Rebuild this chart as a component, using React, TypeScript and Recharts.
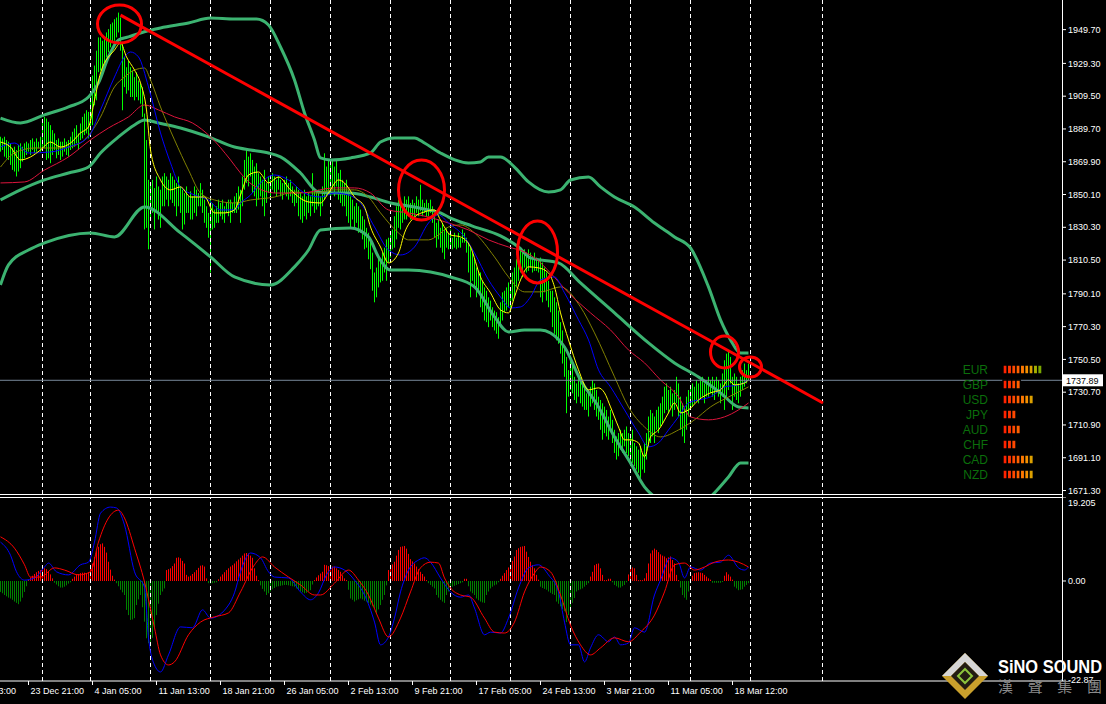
import { ComposedChart, BarChart, Bar, Line, XAxis, YAxis, ReferenceLine, ReferenceDot, Cell } from 'recharts'

const font = '"Liberation Sans", Arial, sans-serif'

// H4 bars, high / low, 10 per row
const barHigh = [
  1885, 1884, 1885, 1883, 1882, 1881, 1878, 1879, 1877, 1880,
  1881, 1879, 1881, 1882, 1881, 1883, 1884, 1882, 1884, 1882,
  1885, 1895, 1897, 1896, 1894, 1892, 1889, 1887, 1883, 1884,
  1882, 1882, 1884, 1882, 1883, 1885, 1888, 1890, 1892, 1887,
  1893, 1897, 1899, 1901, 1900, 1910, 1922, 1928, 1937, 1945,
  1945, 1943, 1945, 1948, 1950, 1953, 1954, 1956, 1957, 1960,
  1957, 1942, 1933, 1927, 1931, 1927, 1925, 1921, 1924, 1919,
  1917, 1915, 1899, 1883, 1859, 1857, 1859, 1854, 1861, 1855,
  1853, 1861, 1863, 1861, 1859, 1863, 1861, 1859, 1857, 1861,
  1855, 1853, 1851, 1855, 1849, 1852, 1849, 1855, 1853, 1851,
  1857, 1853, 1847, 1843, 1839, 1849, 1845, 1841, 1843, 1847,
  1845, 1847, 1843, 1845, 1847, 1847, 1845, 1849, 1851, 1855,
  1853, 1861, 1871, 1877, 1873, 1875, 1871, 1867, 1869, 1863,
  1861, 1859, 1865, 1857, 1861, 1859, 1863, 1861, 1859, 1861,
  1859, 1857, 1859, 1861, 1857, 1859, 1855, 1853, 1855, 1853,
  1851, 1849, 1853, 1849, 1851, 1849, 1863, 1853, 1851, 1853,
  1849, 1855, 1875, 1867, 1871, 1869, 1871, 1867, 1871, 1863,
  1865, 1859, 1857, 1859, 1853, 1849, 1847, 1843, 1845, 1843,
  1841, 1837, 1835, 1830, 1827, 1823, 1815, 1803, 1806, 1812,
  1811, 1815, 1818, 1823, 1824, 1827, 1829, 1837, 1843, 1847,
  1845, 1843, 1849, 1847, 1849, 1845, 1847, 1845, 1849, 1847,
  1856, 1847, 1845, 1847, 1845, 1847, 1843, 1837, 1833, 1835,
  1830, 1833, 1829, 1830, 1827, 1829, 1824, 1827, 1824, 1827,
  1824, 1829, 1827, 1824, 1821, 1818, 1815, 1811, 1806, 1804,
  1803, 1798, 1794, 1792, 1788, 1786, 1782, 1780, 1779, 1776,
  1785, 1791, 1792, 1794, 1797, 1794, 1803, 1806, 1811, 1815,
  1817, 1815, 1817, 1815, 1817, 1815, 1812, 1815, 1812, 1811,
  1812, 1809, 1806, 1803, 1798, 1792, 1792, 1788, 1785, 1780,
  1773, 1768, 1758, 1752, 1744, 1752, 1748, 1740, 1736, 1740,
  1738, 1736, 1734, 1730, 1732, 1734, 1738, 1736, 1732, 1728,
  1726, 1724, 1722, 1720, 1716, 1720, 1714, 1708, 1704, 1706,
  1708, 1706, 1708, 1710, 1706, 1704, 1708, 1700, 1698, 1696,
  1698, 1694, 1700, 1706, 1716, 1720, 1718, 1716, 1720, 1722,
  1724, 1728, 1734, 1736, 1732, 1734, 1730, 1732, 1740, 1736,
  1728, 1724, 1722, 1728, 1732, 1734, 1736, 1734, 1738, 1736,
  1738, 1740, 1736, 1738, 1740, 1738, 1740, 1738, 1740, 1738,
  1736, 1742, 1750, 1754, 1755, 1752, 1740, 1742, 1740, 1736,
  1740, 1744, 1748, 1744, 1748,
]
const barLow = [
  1876, 1877, 1873, 1872, 1871, 1868, 1865, 1864, 1861, 1864,
  1866, 1870, 1872, 1874, 1876, 1874, 1877, 1875, 1876, 1878,
  1876, 1877, 1878, 1871, 1872, 1869, 1874, 1877, 1872, 1874,
  1871, 1873, 1876, 1874, 1873, 1877, 1878, 1879, 1881, 1877,
  1883, 1884, 1886, 1887, 1884, 1889, 1892, 1904, 1907, 1924,
  1925, 1924, 1930, 1933, 1936, 1939, 1942, 1943, 1945, 1948,
  1937, 1901, 1915, 1911, 1913, 1909, 1909, 1907, 1909, 1907,
  1905, 1897, 1829, 1830, 1817, 1835, 1839, 1829, 1839, 1835,
  1830, 1843, 1843, 1847, 1843, 1847, 1845, 1843, 1837, 1843,
  1839, 1829, 1832, 1839, 1839, 1835, 1835, 1839, 1837, 1843,
  1843, 1839, 1833, 1830, 1824, 1803, 1829, 1830, 1833, 1833,
  1837, 1835, 1833, 1839, 1837, 1833, 1839, 1839, 1839, 1841,
  1833, 1843, 1853, 1857, 1855, 1861, 1851, 1849, 1843, 1847,
  1849, 1843, 1837, 1845, 1851, 1849, 1853, 1851, 1849, 1853,
  1849, 1847, 1851, 1849, 1847, 1849, 1845, 1843, 1845, 1837,
  1835, 1833, 1837, 1835, 1839, 1837, 1843, 1839, 1841, 1843,
  1837, 1843, 1847, 1849, 1851, 1847, 1853, 1849, 1855, 1847,
  1845, 1843, 1843, 1837, 1833, 1830, 1835, 1829, 1833, 1827,
  1827, 1823, 1817, 1818, 1811, 1805, 1792, 1785, 1788, 1794,
  1797, 1798, 1803, 1798, 1809, 1812, 1817, 1818, 1823, 1830,
  1829, 1833, 1835, 1835, 1837, 1835, 1837, 1835, 1839, 1837,
  1840, 1837, 1839, 1837, 1837, 1839, 1833, 1824, 1818, 1823,
  1818, 1815, 1811, 1818, 1817, 1818, 1817, 1818, 1817, 1818,
  1818, 1821, 1821, 1815, 1803, 1788, 1798, 1794, 1788, 1791,
  1782, 1779, 1774, 1773, 1770, 1774, 1770, 1768, 1766, 1763,
  1770, 1774, 1779, 1780, 1782, 1779, 1786, 1788, 1794, 1798,
  1803, 1800, 1806, 1803, 1804, 1806, 1803, 1804, 1804, 1803,
  1788, 1785, 1791, 1786, 1782, 1779, 1770, 1766, 1762, 1760,
  1754, 1748, 1740, 1718, 1728, 1732, 1730, 1726, 1724, 1728,
  1724, 1722, 1720, 1720, 1716, 1722, 1724, 1720, 1716, 1714,
  1708, 1702, 1706, 1704, 1702, 1708, 1700, 1694, 1690, 1692,
  1696, 1694, 1698, 1694, 1692, 1688, 1688, 1686, 1684, 1682,
  1679, 1684, 1682, 1690, 1698, 1700, 1704, 1700, 1708, 1706,
  1710, 1712, 1718, 1720, 1718, 1722, 1716, 1720, 1724, 1716,
  1708, 1704, 1700, 1708, 1716, 1720, 1722, 1724, 1726, 1724,
  1726, 1728, 1724, 1728, 1728, 1730, 1728, 1726, 1730, 1728,
  1724, 1728, 1720, 1728, 1732, 1736, 1720, 1728, 1726, 1724,
  1728, 1732, 1734, 1736, 1738,
]

// indicator lines read as [bar index, value]
const bbUpper = [
  [0, 1896.3], [10, 1893.3], [22, 1898.2], [34, 1903.0], [44, 1909.0], [49, 1917.5], [54, 1933.2], [59, 1943.4],
  [64, 1945.3], [70, 1947.7], [80, 1950.7], [94, 1953.7], [105, 1956.7], [117, 1956.1], [128, 1956.1], [134, 1952.5],
  [140, 1939.2], [147, 1919.3], [152, 1899.4], [157, 1883.1], [160, 1872.2], [165, 1871.0], [175, 1872.2], [185, 1875.2],
  [190, 1881.8], [197, 1884.3], [207, 1884.3], [212, 1881.2], [220, 1875.2], [234, 1869.2], [240, 1869.8], [244, 1872.8],
  [250, 1872.8], [257, 1866.7], [264, 1857.7], [274, 1851.6], [280, 1852.9], [285, 1858.9], [294, 1860.7], [300, 1854.7],
  [307, 1848.6], [317, 1842.6], [327, 1832.9], [332, 1828.7], [337, 1824.5], [345, 1817.8], [354, 1794.3], [360, 1774.4],
  [365, 1762.3], [370, 1754.4], [374, 1754.4],
]
const bbMiddle = [
  [0, 1846.8], [10, 1852.9], [22, 1858.9], [34, 1863.1], [44, 1866.7], [50, 1875.2], [59, 1884.9], [67, 1892.1],
  [72, 1895.1], [79, 1893.3], [90, 1890.3], [104, 1884.9], [117, 1878.8], [125, 1877.0], [134, 1875.2], [140, 1872.8],
  [150, 1863.1], [159, 1851.6], [167, 1851.0], [175, 1851.0], [185, 1848.6], [195, 1845.0], [207, 1842.6], [214, 1840.8],
  [220, 1839.0], [224, 1836.5], [236, 1831.0], [250, 1825.1], [259, 1818.4], [265, 1811.8], [279, 1808.8], [290, 1796.7],
  [307, 1778.6], [324, 1760.5], [337, 1748.4], [349, 1739.9], [360, 1730.3], [369, 1721.8], [374, 1721.2],
]
const bbLower = [
  [0, 1795.5], [4, 1807.6], [14, 1816.6], [22, 1820.9], [45, 1826.9], [57, 1824.5], [72, 1842.6], [90, 1826.9],
  [105, 1812.4], [117, 1800.3], [135, 1795.5], [147, 1806.4], [154, 1816.6], [160, 1828.7], [175, 1829.9], [184, 1824.5],
  [189, 1812.4], [195, 1804.5], [204, 1804.5], [215, 1803.3], [225, 1800.3], [237, 1794.3], [247, 1776.2], [254, 1767.1],
  [262, 1768.3], [270, 1768.3], [275, 1766.5], [282, 1758.0], [290, 1738.1], [299, 1721.8], [307, 1703.7], [315, 1688.0],
  [322, 1673.5], [329, 1665.7], [340, 1659.6], [350, 1662.6], [355, 1667.5], [364, 1679.5], [370, 1688.0], [374, 1688.0],
]
const maYellow = [
  [0, 1881.8], [5, 1878.8], [10, 1871.0], [15, 1872.8], [20, 1877.0], [25, 1881.8], [30, 1878.8], [35, 1881.2],
  [40, 1887.3], [44, 1890.9], [47, 1907.2], [50, 1923.5], [57, 1937.4], [60, 1941.6], [63, 1933.2], [67, 1925.3],
  [70, 1917.5], [73, 1901.2], [75, 1877.0], [80, 1858.9], [85, 1852.9], [90, 1854.7], [95, 1848.6], [102, 1848.6],
  [107, 1839.0], [112, 1839.0], [117, 1840.8], [120, 1849.8], [124, 1861.9], [129, 1863.7], [134, 1857.1], [139, 1860.7],
  [145, 1852.9], [154, 1845.6], [160, 1845.0], [164, 1851.0], [169, 1858.9], [172, 1857.1], [177, 1848.6], [182, 1842.6],
  [185, 1830.5], [190, 1818.4], [194, 1808.8], [199, 1814.8], [202, 1826.9], [207, 1836.5], [212, 1839.6], [217, 1840.8],
  [220, 1834.7], [225, 1825.7], [230, 1824.5], [235, 1818.4], [240, 1800.3], [245, 1790.7], [250, 1780.4], [254, 1778.6],
  [257, 1788.2], [260, 1798.5], [264, 1806.4], [269, 1805.8], [274, 1802.7], [277, 1794.3], [280, 1778.6], [284, 1762.3],
  [289, 1744.2], [294, 1732.1], [299, 1733.3], [302, 1730.3], [305, 1721.8], [309, 1709.7], [312, 1701.9], [315, 1701.9],
  [319, 1700.1], [322, 1691.6], [325, 1703.7], [329, 1707.9], [334, 1718.2], [337, 1724.2], [340, 1718.2], [344, 1720.0],
  [349, 1726.0], [355, 1730.3], [360, 1732.1], [364, 1738.1], [367, 1735.1], [372, 1736.3], [374, 1738.1],
]
const maBlue = [
  [0, 1878.8], [7, 1881.2], [14, 1875.2], [25, 1875.8], [34, 1878.8], [44, 1884.9], [50, 1901.2], [57, 1921.1],
  [62, 1933.2], [65, 1936.2], [69, 1933.2], [74, 1915.1], [80, 1887.3], [85, 1869.2], [90, 1854.7], [97, 1849.8],
  [104, 1846.8], [110, 1840.8], [117, 1840.8], [120, 1845.0], [125, 1849.8], [130, 1857.1], [137, 1861.9], [144, 1858.9],
  [152, 1851.0], [160, 1848.6], [167, 1851.0], [174, 1849.8], [180, 1845.0], [187, 1830.5], [194, 1816.6], [200, 1813.6],
  [207, 1818.4], [214, 1832.9], [219, 1837.8], [224, 1832.9], [232, 1824.5], [237, 1814.8], [244, 1798.5], [250, 1788.2],
  [255, 1781.6], [260, 1782.2], [265, 1788.2], [270, 1798.5], [277, 1800.3], [282, 1790.7], [289, 1774.4], [294, 1762.3],
  [299, 1744.2], [305, 1733.9], [312, 1720.0], [319, 1706.1], [324, 1697.7], [329, 1700.1], [334, 1707.9], [339, 1715.8],
  [344, 1724.2], [349, 1726.0], [355, 1727.9], [362, 1733.9], [369, 1735.1], [374, 1738.1],
]
const maOlive = [
  [0, 1866.7], [7, 1875.2], [17, 1878.2], [30, 1878.2], [40, 1881.2], [45, 1887.3], [50, 1896.9], [57, 1915.1],
  [62, 1921.1], [67, 1925.3], [72, 1926.5], [75, 1919.3], [80, 1903.0], [87, 1883.1], [94, 1864.9], [100, 1851.0],
  [107, 1846.8], [117, 1845.0], [125, 1846.8], [137, 1848.6], [147, 1851.6], [157, 1851.0], [167, 1852.9], [177, 1852.9],
  [184, 1848.6], [190, 1839.0], [199, 1826.9], [204, 1822.7], [214, 1822.7], [219, 1825.7], [224, 1830.5], [230, 1831.7],
  [237, 1826.9], [247, 1812.4], [254, 1800.3], [262, 1791.3], [270, 1791.3], [280, 1794.3], [290, 1782.2], [297, 1766.5],
  [307, 1740.0], [314, 1721.8], [322, 1709.7], [330, 1703.7], [339, 1707.9], [347, 1714.0], [355, 1721.8], [364, 1727.8],
  [374, 1733.9],
]
const maCrimson = [
  [0, 1857.1], [12, 1857.7], [22, 1864.9], [34, 1872.8], [45, 1883.1], [54, 1890.3], [64, 1897.0], [72, 1904.2],
  [79, 1901.2], [87, 1897.0], [96, 1893.3], [105, 1884.9], [115, 1871.0], [120, 1863.1], [126, 1855.9], [138, 1851.0],
  [150, 1851.0], [167, 1854.1], [177, 1854.1], [185, 1851.0], [194, 1840.8], [204, 1839.0], [214, 1836.5], [224, 1832.9],
  [234, 1828.7], [244, 1822.7], [254, 1818.4], [262, 1815.4], [268, 1811.0], [275, 1802.7], [284, 1790.7], [295, 1778.6],
  [305, 1768.3], [314, 1756.2], [322, 1748.4], [330, 1738.1], [339, 1727.9], [345, 1715.8], [354, 1714.0], [362, 1715.8],
  [369, 1720.0], [374, 1724.2],
]

// MACD panel
const macdHist = [
  -2.5, -2.8, -3.2, -3.5, -3.8, -4.0, -4.3, -4.7, -5.0, -5.3,
  -4.7, -3.8, -2.5, -1.2, 0.3, 0.8, 1.2, 1.6, 2.0, 2.3,
  2.5, 2.6, 2.9, 2.7, 2.2, 1.5, 0.6, -0.4, -0.8, -1.2,
  -1.5, -1.5, -1.3, -1.0, -0.6, -0.3, 0.5, 1.0, 1.4, 1.6,
  1.8, 1.9, 1.9, 1.8, 2.0, 2.8, 4.0, 5.5, 6.8, 7.8,
  8.4, 8.6, 7.8, 6.5, 4.4, 2.6, 1.2, 0.3, -0.5, -1.2,
  -2.0, -2.6, -3.2, -6.6, -7.8, -8.9, -8.8, -8.5, -5.5, -4.2,
  -3.2, -6.0, -9.3, -13.1, -14.2, -15.0, -13.0, -10.8, -7.8, -5.2,
  -3.2, -2.4, -1.7, 2.5, 2.7, 2.9, 3.4, 4.0, 5.3, 5.4,
  5.2, 4.6, 4.0, 1.4, 1.0, 1.2, 1.6, 2.0, 2.5, 3.0,
  3.5, 3.6, 3.3, 0.6, -0.5, -0.6, -0.5, -0.4, -0.3, 0.4,
  1.0, 1.5, 2.0, 2.5, 2.9, 3.3, 3.6, 4.0, 4.5, 4.9,
  5.3, 5.8, 6.3, 6.4, 6.3, 5.8, 5.3, 2.9, 1.2, 0.2,
  -1.0, -1.8, -2.4, -3.2, -2.8, -2.4, -1.9, -1.6, -1.3, -1.2,
  -1.1, -1.0, -0.9, -0.9, -1.0, -1.1, -1.2, -1.3, -1.7, -2.0,
  -2.4, -2.6, -2.8, -2.7, -2.4, -2.1, -0.8, 0.2, 0.8, 1.3,
  1.7, 2.1, 3.7, 3.6, 3.4, 3.3, 3.3, 3.3, 2.9, 2.5,
  2.1, 1.3, 0.6, 0.2, -2.0, -4.0, -4.3, -4.7, -4.4, -4.2,
  -4.0, -4.2, -4.5, -4.7, -5.0, -5.4, -5.8, -6.2, -7.4, -6.5,
  -5.5, -4.3, -3.2, -1.0, 2.5, 3.1, 3.8, 4.4, 5.8, 7.1,
  7.8, 7.9, 8.0, 7.4, 6.2, 5.0, 4.5, 4.0, 3.3, 2.7,
  2.1, 1.6, 1.0, 0.2, -0.5, -0.9, -1.3, -1.7, -3.2, -3.8,
  -4.3, -4.7, -5.0, -3.2, -2.4, -1.7, -1.3, -1.1, -0.9, -0.7,
  -0.5, -0.3, 0.5, 0.5, -1.2, -2.4, -2.8, -3.2, -4.0, -4.4,
  -4.7, -4.9, -5.0, -3.2, -2.4, -1.7, -1.3, -1.0, -0.8, -0.3,
  0.5, 1.2, 1.8, 2.5, 3.1, 3.7, 4.6, 5.6, 7.1, 7.5,
  7.8, 7.9, 8.0, 6.7, 5.5, 4.4, 3.6, 2.9, 1.4, 0.3,
  -1.3, -1.6, -1.8, -2.0, -2.4, -2.7, -3.0, -3.2, -4.7, -5.2,
  -5.8, -6.4, -6.9, -9.4, -7.8, -6.2, -5.0, -3.9, -2.4, -2.1,
  -1.9, -1.7, -1.3, -0.9, -0.5, 1.0, 2.1, 3.6, 3.9, 4.0,
  2.9, 1.4, 0.2, 0.2, 0.5, 0.5, -0.3, -0.9, -1.2, -1.5,
  -1.5, -1.2, -0.9, -0.3, 1.5, 3.3, 3.1, 2.9, 1.4, 0.2,
  0.2, 0.2, 0.6, 1.8, 4.0, 6.3, 7.0, 7.4, 7.1, 6.6,
  6.1, 5.8, 5.6, 5.2, 5.4, 5.6, 4.8, 4.0, 1.4, 0.2,
  -1.5, -3.2, -3.8, -4.3, -2.4, -0.5, 1.2, 1.8, 1.9, 2.0,
  1.9, 1.8, 1.4, 1.0, 0.6, 0.3, -0.4, -0.4, -0.4, -0.4,
  -0.4, -0.2, 1.2, 2.0, 1.5, 1.0, 0.3, -1.3, -1.7, -2.1,
  -2.0, -1.9, -1.3, -0.9, -0.5,
]
const macdMain = [
  [0, 8.9], [5, 5.9], [8, 2.1], [12, 0.2], [17, 0.7], [22, 3.2], [24, 4.1], [28, 2.1], [34, 1.4], [40, 3.7],
  [44, 4.3], [47, 8.9], [50, 15.5], [55, 16.9], [58, 16.7], [62, 12.8], [67, 2.1], [72, -1.4], [74, -13.0], [77, -19.2],
  [80, -20.8], [84, -16.9], [90, -10.5], [96, -10.7], [101, -6.6], [105, -8.5], [114, -5.5], [117, -2.7], [120, 2.1],
  [125, 6.4], [130, 5.3], [134, 2.1], [137, 0.9], [144, 0.7], [150, -2.5], [155, -4.3], [159, -2.7], [163, 1.4],
  [167, 3.2], [172, 2.5], [177, 0.2], [182, -3.2], [187, -9.4], [190, -14.6], [194, -12.8], [197, -8.5], [200, -2.5],
  [204, 2.5], [209, 4.8], [212, 5.3], [215, 4.3], [220, 0.7], [225, -2.5], [230, -3.7], [234, -3.2], [237, -6.2],
  [242, -12.3], [245, -11.7], [250, -11.9], [254, -8.5], [259, -1.6], [264, 3.0], [269, 3.7], [274, 1.4], [279, -2.5],
  [282, -9.4], [285, -14.6], [289, -14.6], [292, -18.5], [295, -15.3], [299, -12.3], [304, -13.9], [307, -12.8],
  [310, -14.6], [314, -14.2], [317, -10.7], [322, -11.7], [327, -3.2], [330, 0.2], [335, 5.3], [339, 4.3], [342, 0.7],
  [345, 3.2], [350, 2.5], [355, 4.1], [360, 4.3], [364, 5.9], [369, 3.0], [372, 2.5], [374, 3.2],
]
const macdSignal = [
  [0, 10.1], [7, 7.5], [12, 3.7], [15, 0.9], [20, 0.9], [27, 3.0], [32, 2.5], [39, 1.4], [45, 2.1], [49, 8.9],
  [54, 14.4], [59, 16.2], [62, 14.4], [67, 7.5], [72, -0.2], [77, -10.7], [80, -16.9], [84, -19.2], [87, -18.5],
  [94, -12.3], [100, -9.4], [107, -8.2], [114, -7.3], [120, -2.5], [127, 3.7], [131, 5.5], [137, 3.2], [144, 0.9],
  [150, -0.9], [157, -3.2], [160, -3.2], [167, -0.5], [174, 2.5], [179, 0.2], [184, -3.2], [189, -8.5], [194, -12.8],
  [200, -8.5], [205, -2.5], [210, 3.0], [215, 4.3], [219, 4.1], [222, 0.7], [225, -1.6], [230, -3.2], [235, -3.7],
  [242, -8.5], [247, -11.7], [252, -11.9], [257, -9.4], [262, -2.5], [267, 1.8], [270, 3.2], [275, 2.1], [280, -3.2],
  [285, -10.1], [290, -14.6], [295, -16.9], [300, -15.3], [307, -13.0], [314, -13.9], [320, -11.7], [327, -7.8],
  [332, -2.5], [337, 3.7], [342, 4.1], [347, 2.5], [352, 3.2], [357, 4.3], [364, 4.8], [369, 4.3], [374, 3.2],
]

const priceTicks = [1949.7, 1929.3, 1909.5, 1889.7, 1869.9, 1850.1, 1830.3, 1810.5, 1790.1, 1770.3, 1750.5, 1730.7, 1710.9, 1691.1, 1671.3]
const macdTicks = [19.205, 0, -22.87]
const macdTickLabels = ['19.205', '0.00', '-22.87']
const gridBars = [21, 45, 75, 105, 135, 165, 195, 225, 255, 285, 315, 345, 375, 411]
const timeBars = [-20, 14, 46, 78, 110, 142, 174, 206, 238, 270, 302, 334, 366]
const timeLabels = ['16 Dec 13:00', '23 Dec 21:00', '4 Jan 05:00', '11 Jan 13:00', '18 Jan 21:00', '26 Jan 05:00', '2 Feb 13:00', '9 Feb 21:00', '17 Feb 05:00', '24 Feb 13:00', '3 Mar 21:00', '11 Mar 05:00', '18 Mar 12:00']
const lastPrice = 1737.89
const trendStart = [60, 1958.5]
const trendEnd = [411.25, 1724.2]
const touches = [[59.5, 1953.1], [210.5, 1852.8], [268.5, 1815.4], [362, 1755.0], [375, 1745.9]]
const touchRadii = [[22, 19], [23, 30], [20, 31], [14, 16], [11, 10]]

const currencies = ['EUR', 'GBP', 'USD', 'JPY', 'AUD', 'CHF', 'CAD', 'NZD']
const strength = [9, 4, 7, 3, 4, 3, 7, 7]
const strengthColors = ['#ff2200', '#ff3300', '#ff4800', '#ff6000', '#ff7a00', '#f59000', '#dca000', '#a6b000', '#7aa800']

const sparse = (pts: number[][]) => {
  const out: (number | null)[] = barHigh.map(() => null)
  pts.forEach(([i, v]) => { out[i] = v })
  return out
}

const upS = sparse(bbUpper), midS = sparse(bbMiddle), loS = sparse(bbLower)
const yS = sparse(maYellow), bS = sparse(maBlue), oS = sparse(maOlive), cS = sparse(maCrimson)
const priceRows = barHigh.map((h, i) => ({
  i, range: [barLow[i], h], up: upS[i], mid: midS[i], lo: loS[i], yel: yS[i], blu: bS[i], oli: oS[i], cri: cS[i],
}))

const mS = sparse(macdMain), sS = sparse(macdSignal)
const macdRows = macdHist.map((h, i) => ({ i, hist: h, macd: mS[i], signal: sS[i] }))

const strengthRows = currencies.map((ccy, r) => {
  const row: any = { ccy }
  strengthColors.forEach((_, k) => { row['s' + k] = strength[r] > k ? 1 : 0 })
  return row
})

const xDomain = [-0.25, 530.75]

// 1px bars snapped to whole pixels so they stay sharp
function CrispBar(p: any) {
  if (p.height == null || p.width == null) return null
  const x = Math.floor(p.x + p.width / 2)
  const y = Math.min(p.y, p.y + p.height)
  const h = Math.max(Math.abs(p.height), 1)
  return <rect x={x} y={y} width={1} height={h} fill={p.fill} />
}

function TimeTick(props: any) {
  const { x, y, payload } = props
  const label = timeLabels[timeBars.indexOf(payload.value)]
  return (
    <g>
      <line x1={x} x2={x} y1={y} y2={y + 4} stroke="#fff" />
      <text x={x + 2} y={y + 13} fill="#fff" fontSize={9} fontFamily={font}>{label}</text>
    </g>
  )
}

function MacdTick(props: any) {
  const { x, y, payload } = props
  const k = macdTicks.indexOf(payload.value)
  const dy = k === 0 ? 6 : k === 2 ? -1 : 0
  return <text x={x} y={y + dy} dy="0.355em" fill="#fff" fontSize={9} fontFamily={font}>{macdTickLabels[k]}</text>
}

function PriceTag(props: any) {
  const vb = props.viewBox
  const x = vb.x + vb.width
  return (
    <g>
      <rect x={x + 1} y={vb.y - 6} width={40} height={12} fill="#fff" />
      <text x={x + 4} y={vb.y + 3.5} fill="#000" fontSize={9} fontFamily={font}>{lastPrice.toFixed(2)}</text>
    </g>
  )
}

export default function App() {
  const lineProps = { dot: false, activeDot: false, isAnimationActive: false, connectNulls: true, type: 'monotone' as const }
  return (
    <div style={{ position: 'absolute', left: 0, top: 0, width: 1106, height: 704, background: '#000', overflow: 'hidden', fontFamily: font }}>
      <div style={{ position: 'absolute', left: 0, top: 0 }}>
        <ComposedChart width={1106} height={494} data={priceRows} margin={{ top: 0, right: 0, bottom: 0, left: 0 }}>
          <XAxis dataKey="i" type="number" domain={xDomain} allowDataOverflow hide />
          <YAxis orientation="right" width={44} domain={[1669.2, 1967.6]} allowDataOverflow ticks={priceTicks} interval={0}
            tickFormatter={(v: number) => v.toFixed(2)} tick={{ fill: '#fff', fontSize: 9, fontFamily: font }}
            tickSize={4} tickMargin={2} axisLine={false} tickLine={{ stroke: '#fff' }} />
          {gridBars.map((g) => <ReferenceLine key={g} x={g} stroke="#fff" strokeDasharray="4 3" />)}
          <Bar dataKey="range" fill="#00ff00" barSize={1} shape={(p: any) => <CrispBar {...p} />} isAnimationActive={false} />
          <Line dataKey="up" stroke="#3cb371" strokeWidth={3} {...lineProps} />
          <Line dataKey="mid" stroke="#3cb371" strokeWidth={3} {...lineProps} />
          <Line dataKey="lo" stroke="#3cb371" strokeWidth={3} {...lineProps} />
          <Line dataKey="oli" stroke="#808000" strokeWidth={1} {...lineProps} />
          <Line dataKey="cri" stroke="#dc143c" strokeWidth={1} {...lineProps} />
          <Line dataKey="blu" stroke="#0000ff" strokeWidth={1} {...lineProps} />
          <Line dataKey="yel" stroke="#ffff00" strokeWidth={1} {...lineProps} />
          <ReferenceLine y={lastPrice} stroke="#778899" label={(p: any) => <PriceTag {...p} />} />
          <ReferenceLine segment={[{ x: trendStart[0], y: trendStart[1] }, { x: trendEnd[0], y: trendEnd[1] }]} stroke="#ff0000" strokeWidth={3} />
          {touches.map(([i, p], k) => (
            <ReferenceDot key={k} x={i} y={p} r={touchRadii[k][0]}
              shape={(s: any) => <ellipse cx={s.cx} cy={s.cy} rx={touchRadii[k][0]} ry={touchRadii[k][1]} fill="none" stroke="#ff0000" strokeWidth={3} />} />
          ))}
        </ComposedChart>
      </div>

      <div style={{ position: 'absolute', left: 0, top: 494, width: 1063, height: 1, background: '#fff' }} />
      <div style={{ position: 'absolute', left: 0, top: 497, width: 1063, height: 1, background: '#fff' }} />
      <div style={{ position: 'absolute', left: 1062, top: 0, width: 1, height: 682, background: '#fff' }} />

      <div style={{ position: 'absolute', left: 0, top: 497 }}>
        <ComposedChart width={1106} height={207} data={macdRows} margin={{ top: 0, right: 0, bottom: 0, left: 0 }}>
          <XAxis dataKey="i" type="number" domain={xDomain} allowDataOverflow ticks={timeBars} interval={0} height={23}
            tick={(p: any) => <TimeTick {...p} />} tickLine={false} tickSize={0} tickMargin={0} axisLine={{ stroke: '#fff' }} />
          <YAxis orientation="right" width={44} domain={[-22.87, 19.205]} allowDataOverflow ticks={macdTicks} interval={0}
            tick={(p: any) => <MacdTick {...p} />} tickSize={4} tickMargin={2} axisLine={false} tickLine={{ stroke: '#fff' }} />
          {gridBars.map((g) => <ReferenceLine key={g} x={g} stroke="#fff" strokeDasharray="4 3" />)}
          <Bar dataKey="hist" barSize={1} shape={(p: any) => <CrispBar {...p} />} isAnimationActive={false}>
            {macdHist.map((v, k) => <Cell key={k} fill={v >= 0 ? '#ff0000' : '#008000'} />)}
          </Bar>
          <Line dataKey="macd" stroke="#0000ff" strokeWidth={1} {...lineProps} />
          <Line dataKey="signal" stroke="#ff0000" strokeWidth={1} {...lineProps} />
        </ComposedChart>
      </div>

      <div style={{ position: 'absolute', left: 943, top: 362 }}>
        <BarChart layout="vertical" width={99} height={120} data={strengthRows} margin={{ top: 0, right: 0, bottom: 0, left: 0 }} barSize={9}>
          <XAxis type="number" domain={[0, 9]} hide />
          <YAxis type="category" dataKey="ccy" width={60} interval={0} tickLine={false} axisLine={false} tickSize={0} tickMargin={15}
            tick={{ fill: '#0b6e0b', fontSize: 12, fontFamily: font }} />
          {strengthColors.map((c, k) => (
            <Bar key={k} dataKey={'s' + k} stackId="s" fill={c} stroke="#000" strokeWidth={1.4} isAnimationActive={false} />
          ))}
        </BarChart>
      </div>

      <svg width={170} height={60} style={{ position: 'absolute', left: 936, top: 644 }} viewBox="936 644 170 60">
        <polygon points="965,653 988,676 965,699 942,676" fill="#c9a02c" />
        <polygon points="965,653 988,676 979,676 965,662 951,676 942,676" fill="#d6d6d6" />
        <polygon points="965,662 979,676 965,690 951,676" fill="#221c12" />
        <polygon points="965,669 972,676 965,683 958,676" fill="none" stroke="#8cc43c" strokeWidth={2} />
        <text x={998} y={673} fill="#fff" fontSize={18} fontWeight="bold" fontFamily={font} textLength={104} lengthAdjust="spacingAndGlyphs">SiNO SOUND</text>
        <text x={998} y={692} fill="#8a8a8a" fontSize={15} fontFamily='"Noto Sans CJK TC", sans-serif' textLength={104}>漢聲集團</text>
      </svg>
    </div>
  )
}
